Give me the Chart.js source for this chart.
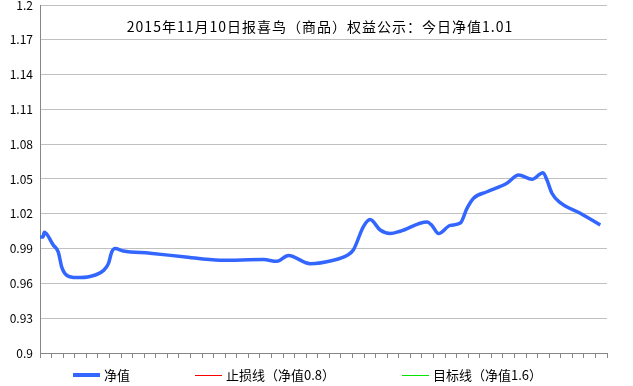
<!DOCTYPE html>
<html>
<head>
<meta charset="utf-8">
<script src="https://cdn.jsdelivr.net/npm/chart.js@4"></script>
<style>
  html, body { margin: 0; padding: 0; background: #fff; }
  #wrap { width: 633px; height: 386px; }
</style>
</head>
<body>
<div id="wrap"><canvas id="chart" width="633" height="386"></canvas></div>
<script>
// --- data ---
const titleText = '2015年11月10日报喜鸟（商品）权益公示：今日净值1.01';
const seriesNames = ['净值', '止损线（净值0.8）', '目标线（净值1.6）'];
const seriesColors = ['#3366ff', '#ff0000', '#00e600'];

// trading-day position (0 = first tick) and the net value there
const dayPos = [0, 0.26, 0.37, 1.15, 1.58, 1.88, 2.31, 3.17, 4.32, 5.47, 5.91, 6.2, 6.49, 7.2,
  9.51, 12.39, 15.57, 19.31, 20.47, 21.47, 23.35, 25.36, 26.52, 27.09, 27.95, 28.53, 29.4,
  30.26, 31.13, 33.44, 33.87, 34.44, 35.45, 36.32, 36.9, 37.47, 38.63, 40.35, 41.36, 42.52,
  43.47, 43.81, 44.24, 44.96, 46.69, 48.42];
const navValues = [1.000, 1.000, 1.004, 0.993, 0.987, 0.974, 0.967, 0.965, 0.966, 0.971, 0.977,
  0.987, 0.990, 0.988, 0.986, 0.983, 0.980, 0.9805, 0.979, 0.984, 0.977, 0.980, 0.984, 0.989,
  1.009, 1.015, 1.006, 1.003, 1.005, 1.013, 1.010, 1.003, 1.010, 1.012, 1.0247, 1.0334, 1.039,
  1.0463, 1.0534, 1.0497, 1.0554, 1.0491, 1.0377, 1.0296, 1.0204, 1.0103];
const stopLoss = [0.8, 0.8];
const target = [1.6, 1.6];
const lineEnds = [0, 49];

const yMin = 0.9, yMax = 1.2, yStep = 0.03;

const toPoints = (xs, ys) => xs.map((x, i) => ({ x: x, y: ys[i] }));

// --- title drawn inside the plot area ---
const innerTitle = {
  id: 'innerTitle',
  afterDraw(chart) {
    const ctx = chart.ctx;
    ctx.save();
    ctx.font = '14px "Noto Sans CJK SC"';
    ctx.letterSpacing = '1px';
    ctx.fillStyle = '#000';
    ctx.textAlign = 'center';
    ctx.textBaseline = 'middle';
    ctx.fillText(titleText, 320, 27);
    ctx.restore();
  }
};

// --- legend row under the axis ---
const bottomLegend = {
  id: 'bottomLegend',
  afterDraw(chart) {
    const ctx = chart.ctx;
    const slots = [73, 195, 402];
    const y = 375;
    ctx.save();
    ctx.font = '13px "Noto Sans CJK SC"';
    ctx.textBaseline = 'middle';
    chart.data.datasets.forEach((ds, i) => {
      const x = slots[i];
      // thin strokes sit on half pixels so they stay crisp
      const ly = ds.borderWidth < 2 ? y + 0.5 : y;
      ctx.strokeStyle = ds.borderColor;
      ctx.lineWidth = i === 0 ? 4 : ds.borderWidth;
      ctx.beginPath();
      ctx.moveTo(x, ly);
      ctx.lineTo(x + 27, ly);
      ctx.stroke();
      ctx.fillStyle = '#000';
      ctx.fillText(ds.label, x + 31, y);
    });
    ctx.restore();
  }
};

new Chart(document.getElementById('chart'), {
  type: 'line',
  data: {
    datasets: [
      {
        label: seriesNames[0],
        data: toPoints(dayPos, navValues),
        borderColor: seriesColors[0],
        borderWidth: 3.5,
        pointRadius: 0,
        cubicInterpolationMode: 'monotone'
      },
      {
        label: seriesNames[1],
        data: toPoints(lineEnds, stopLoss),
        borderColor: seriesColors[1],
        borderWidth: 1,
        pointRadius: 0
      },
      {
        label: seriesNames[2],
        data: toPoints(lineEnds, target),
        borderColor: seriesColors[2],
        borderWidth: 1,
        pointRadius: 0
      }
    ]
  },
  options: {
    responsive: false,
    animation: false,
    layout: { padding: { top: 5, left: 0, right: 26, bottom: 28 } },
    plugins: {
      legend: { display: false },
      title: { display: false },
      tooltip: { enabled: false }
    },
    scales: {
      x: {
        type: 'linear',
        min: 0,
        max: 49,
        ticks: { stepSize: 1, display: false },
        grid: { drawOnChartArea: false, drawTicks: true, tickLength: 5, color: '#868686' },
        border: { color: '#868686', width: 1 }
      },
      y: {
        min: yMin,
        max: yMax,
        ticks: {
          stepSize: yStep,
          padding: 7,
          color: '#000',
          font: { family: '"Noto Sans CJK SC"', size: 12 },
          callback: v => String(Number(v.toFixed(2)))
        },
        grid: { color: '#c0c0c0', drawTicks: false },
        border: { color: '#868686', width: 1 },
        afterFit(scale) {
          scale.width = 40;
          scale.paddingTop = 0;
          scale.paddingBottom = 0;
        }
      }
    }
  },
  plugins: [innerTitle, bottomLegend]
});
</script>
</body>
</html>
